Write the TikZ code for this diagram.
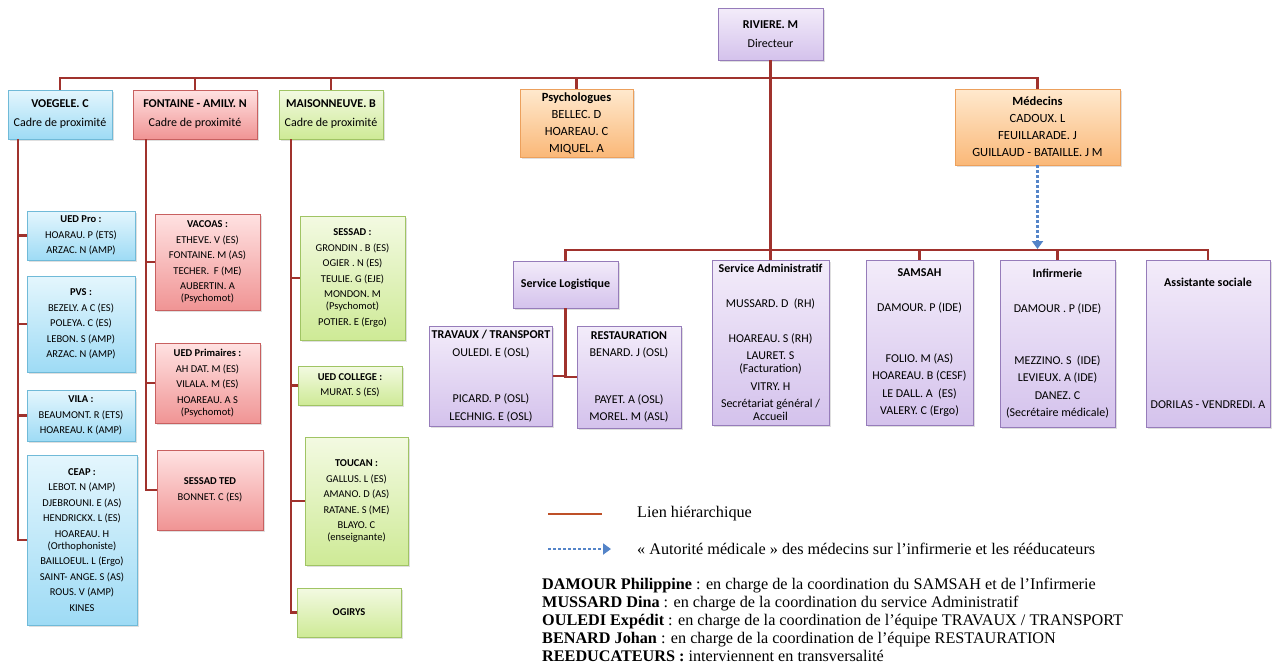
\documentclass[tikz,border=0pt]{standalone}
\usepackage{fontspec}
\setmainfont{Carlito}
\newfontfamily\legendfont{Liberation Serif}
\usetikzlibrary{arrows.meta,shadows}

\definecolor{bleuhaut}{RGB}{228,246,253}
\definecolor{bleubas}{RGB}{158,219,245}
\definecolor{bleubord}{RGB}{112,186,216}
\definecolor{rougehaut}{RGB}{255,226,226}
\definecolor{rougebas}{RGB}{240,148,148}
\definecolor{rougebord}{RGB}{200,96,96}
\definecolor{verthaut}{RGB}{243,250,226}
\definecolor{vertbas}{RGB}{206,234,150}
\definecolor{vertbord}{RGB}{160,196,100}
\definecolor{orangehaut}{RGB}{255,233,206}
\definecolor{orangebas}{RGB}{250,184,120}
\definecolor{orangebord}{RGB}{236,160,92}
\definecolor{violethaut}{RGB}{243,236,250}
\definecolor{violetbas}{RGB}{212,194,236}
\definecolor{violetbord}{RGB}{150,124,186}
\definecolor{lienrouge}{RGB}{160,50,45}
\definecolor{legrouge}{RGB}{190,80,40}
\definecolor{bleufleche}{RGB}{84,132,200}

\begin{document}
\begin{tikzpicture}[x=1pt, y=1pt,
	boite/.style={draw, line width=0.8pt, align=center, inner sep=2pt,
		drop shadow={shadow xshift=1.5pt, shadow yshift=-1.5pt, opacity=0.25}},
	taille/.style 2 args={minimum width=#1pt, minimum height=#2pt},
	boitebleue/.style={boite, draw=bleubord, top color=bleuhaut, bottom color=bleubas},
	boiterouge/.style={boite, draw=rougebord, top color=rougehaut, bottom color=rougebas},
	boiteverte/.style={boite, draw=vertbord, top color=verthaut, bottom color=vertbas},
	boiteorange/.style={boite, draw=orangebord, top color=orangehaut, bottom color=orangebas},
	boiteviolette/.style={boite, draw=violetbord, top color=violethaut, bottom color=violetbas},
	colonne/.style={font=\fontsize{10.5}{15.5}\selectfont},
	cadre/.style={font=\fontsize{12}{19}\selectfont},
	psy/.style={font=\fontsize{12.5}{17}\selectfont},
	service/.style={font=\fontsize{12}{17.5}\selectfont},
	lien/.style={draw=lienrouge, line width=2.2pt},
	autorite/.style={draw=bleufleche, line width=2.6pt, dash pattern=on 3pt off 2pt,
		-{Triangle[length=8pt, width=11pt]}},
	legende/.style={font=\legendfont\fontsize{16.2}{18}\selectfont, inner sep=0pt}]
	\useasboundingbox (0,0) rectangle (1276,-667);

	% direction
	\node [boiteviolette, cadre, taille={105}{52}] (riviere) at (770.5,-34) {\textbf{RIVIERE. M}\\Directeur};

	% cadres de proximite
	\node [boitebleue, cadre, taille={104}{49}] (voegele) at (60,-114.5) {\textbf{VOEGELE. C}\\Cadre de proximité};
	\node [boiterouge, cadre, taille={124}{49}] (fontaine) at (195,-114.5) {\textbf{FONTAINE - AMILY. N}\\Cadre de proximité};
	\node [boiteverte, cadre, taille={104}{49}] (maisonneuve) at (331,-114.5) {\textbf{MAISONNEUVE. B}\\Cadre de proximité};
	\node [boiteorange, psy, taille={113}{68}] (psychologues) at (576.5,-123) {\textbf{Psychologues}\\BELLEC. D\\HOAREAU. C\\MIQUEL. A};
	\node [boiteorange, psy, taille={165}{76}] (medecins) at (1037.5,-127) {\textbf{Médecins}\\CADOUX. L\\FEUILLARADE. J\\GUILLAUD - BATAILLE. J M};

	% equipes VOEGELE
	\node [boitebleue, colonne, taille={108}{49}] (uedpro) at (81,-235.5) {\textbf{UED Pro :}\\HOARAU. P (ETS)\\ARZAC. N (AMP)};
	\node [boitebleue, colonne, taille={108}{96}] (pvs) at (81,-324) {\textbf{PVS :}\\BEZELY. A C (ES)\\POLEYA. C (ES)\\LEBON. S (AMP)\\ARZAC. N (AMP)};
	\node [boitebleue, colonne, taille={108}{51}] (vila) at (81,-415.5) {\textbf{VILA :}\\BEAUMONT. R (ETS)\\HOAREAU. K (AMP)};
	\node [boitebleue, colonne, taille={110}{170}] (ceap) at (82,-540) {\textbf{CEAP :}\\LEBOT. N (AMP)\\DJEBROUNI. E (AS)\\HENDRICKX. L (ES)\\HOAREAU. H\\[-3.5pt](Orthophoniste)\\BAILLOEUL. L (Ergo)\\SAINT- ANGE. S (AS)\\ROUS. V (AMP)\\KINES};

	% equipes FONTAINE - AMILY
	\node [boiterouge, colonne, taille={105}{96}] (vacoas) at (207.5,-262) {\textbf{VACOAS :}\\ETHEVE. V (ES)\\FONTAINE. M (AS)\\TECHER.~ F (ME)\\AUBERTIN. A\\[-3.5pt](Psychomot)};
	\node [boiterouge, colonne, taille={105}{80}] (uedprim) at (207.5,-383) {\textbf{UED Primaires :}\\AH DAT. M (ES)\\VILALA. M (ES)\\HOAREAU. A S\\[-3.5pt](Psychomot)};
	\node [boiterouge, colonne, taille={106}{80}] (sessadted) at (210,-490) {\textbf{SESSAD TED}\\BONNET. C (ES)};

	% equipes MAISONNEUVE
	\node [boiteverte, colonne, taille={105}{124}] (sessad) at (352.5,-278) {\textbf{SESSAD :}\\GRONDIN . B (ES)\\OGIER . N (ES)\\TEULIE. G (EJE)\\MONDON. M\\[-3.5pt](Psychomot)\\POTIER. E (Ergo)};
	\node [boiteverte, colonne, taille={104}{39}] (uedcollege) at (350,-385.5) {\textbf{UED COLLEGE :}\\MURAT. S (ES)};
	\node [boiteverte, colonne, taille={103}{128}] (toucan) at (356.5,-501) {\textbf{TOUCAN :}\\GALLUS. L (ES)\\AMANO. D (AS)\\RATANE. S (ME)\\BLAYO. C\\[-3.5pt](enseignante)};
	\node [boiteverte, colonne, taille={104}{49}] (ogirys) at (349,-612.5) {\textbf{OGIRYS}};

	% services
	\node [boiteviolette, service, taille={105}{47}] (logistique) at (565.5,-284.5) {\textbf{Service Logistique}};
	\node [boiteviolette, service, taille={122}{100}] (travaux) at (491,-376) {\textbf{TRAVAUX / TRANSPORT}\\OULEDI. E (OSL)\\[29pt]PICARD. P (OSL)\\LECHNIG. E (OSL)};
	\node [boiteviolette, service, taille={104}{102}] (restauration) at (629,-377) {\textbf{RESTAURATION}\\BENARD. J (OSL)\\[29pt]PAYET. A (OSL)\\MOREL. M (ASL)};
	\node [boiteviolette, service, taille={117}{165}] (administratif) at (770.5,-342.5) {\textbf{Service Administratif}\\[17.5pt]MUSSARD. D~ (RH)\\[17.5pt]HOAREAU. S (RH)\\LAURET. S\\[-4.5pt](Facturation)\\VITRY. H\\Secrétariat général /\\[-4.5pt]Accueil};
	\node [boiteviolette, service, taille={107}{165}] (samsah) at (919.5,-342.5) {\textbf{SAMSAH}\\[17.5pt]DAMOUR. P (IDE)\\[33.5pt]FOLIO. M (AS)\\HOAREAU. B (CESF)\\LE DALL. A~ (ES)\\VALERY. C (Ergo)};
	\node [boiteviolette, service, taille={115}{167}] (infirmerie) at (1057.5,-343.5) {\textbf{Infirmerie}\\[17.5pt]DAMOUR . P (IDE)\\[34.5pt]MEZZINO. S~ (IDE)\\LEVIEUX. A (IDE)\\DANEZ. C\\(Secrétaire médicale)};
	\node [boiteviolette, service, taille={124}{167}] (assistante) at (1208,-343.5) {\textbf{Assistante sociale}\\[104.5pt]DORILAS - VENDREDI. A};

	% liens hierarchiques
	\coordinate (haut) at (770.5,-78);
	\coordinate (milieu) at (770.5,-250);
	\draw [lien] (riviere.south) -- (administratif.north);
	\draw [lien] (haut) -| (voegele.north);
	\draw [lien] (haut) -| (fontaine.north);
	\draw [lien] (haut) -| (maisonneuve.north);
	\draw [lien] (haut) -| (psychologues.north);
	\draw [lien] (haut) -| (medecins.north);
	\draw [lien] (milieu) -| (logistique.north);
	\draw [lien] (milieu) -| (samsah.north);
	\draw [lien] (milieu) -| (infirmerie.north);
	\draw [lien] (milieu) -| (assistante.north);

	\draw [lien] ([xshift=-42pt]voegele.south) |- (uedpro.west);
	\draw [lien] ([xshift=-42pt]voegele.south) |- (pvs.west);
	\draw [lien] ([xshift=-42pt]voegele.south) |- (vila.west);
	\draw [lien] ([xshift=-42pt]voegele.south) |- (ceap.west);

	\draw [lien] ([xshift=-49pt]fontaine.south) |- (vacoas.west);
	\draw [lien] ([xshift=-49pt]fontaine.south) |- (uedprim.west);
	\draw [lien] ([xshift=-49pt]fontaine.south) |- (sessadted.west);

	\draw [lien] ([xshift=-40pt]maisonneuve.south) |- (sessad.west);
	\draw [lien] ([xshift=-40pt]maisonneuve.south) |- (uedcollege.west);
	\draw [lien] ([xshift=-40pt]maisonneuve.south) |- (toucan.west);
	\draw [lien] ([xshift=-40pt]maisonneuve.south) |- (ogirys.west);

	\draw [lien] (logistique.south) |- (travaux.east);
	\draw [lien] (logistique.south) |- (restauration.west);

	% autorite medicale
	\coordinate (autoriteB) at (1037.5,-249);
	\draw [autorite] (medecins.south) -- (autoriteB);

	% legende
	\coordinate (lienA) at (548,-514);
	\coordinate (lienB) at (602,-514);
	\draw [lien, draw=legrouge, line width=2.6pt] (lienA) -- (lienB);
	\node [legende, anchor=west] (txtlien) at (637,-514) {Lien hiérarchique};
	\coordinate (flecheA) at (548,-549);
	\coordinate (flecheB) at (611,-549);
	\draw [autorite] (flecheA) -- (flecheB);
	\node [legende, anchor=west] (txtfleche) at (637,-549) {« Autorité médicale » des médecins sur l’infirmerie et les rééducateurs};
	\node [legende, anchor=west, align=left] (coordination) at (542,-620) {\textbf{DAMOUR Philippine} : en charge de la coordination du SAMSAH et de l’Infirmerie\\
		\textbf{MUSSARD Dina} : en charge de la coordination du service Administratif\\
		\textbf{OULEDI Expédit} : en charge de la coordination de l’équipe TRAVAUX / TRANSPORT\\
		\textbf{BENARD Johan} : en charge de la coordination de l’équipe RESTAURATION\\
		\textbf{REEDUCATEURS :} interviennent en transversalité};
\end{tikzpicture}
\end{document}
